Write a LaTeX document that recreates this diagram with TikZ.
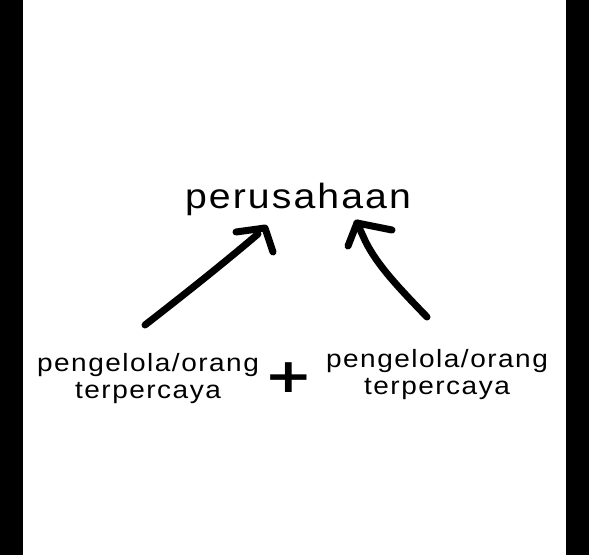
\documentclass[tikz,border=0pt]{standalone}
\usepackage{fontspec}
\setmainfont{Liberation Sans}
\newfontfamily\titlefont[LetterSpace=6,FakeStretch=1.12]{Liberation Sans}
\newfontfamily\labelfont[LetterSpace=6,FakeStretch=1.12]{Liberation Sans}
\newfontfamily\plusfont{DejaVu Sans}[BoldFont={DejaVu Sans Bold}]
\begin{document}
\begin{tikzpicture}[x=1pt,y=-1pt,
  lbl/.style={inner sep=0pt,align=center,font=\labelfont\fontsize{25}{26.5}\selectfont,text=black},
  ttl/.style={inner sep=0pt,font=\titlefont\fontsize{35}{40}\selectfont,text=black},
  pen/.style={draw=black,line width=7pt,line cap=round,line join=round}]
\useasboundingbox (0,0) rectangle (589,555);
\fill[white] (0,0) rectangle (589,555);
\fill[black] (0,0) rectangle (23,555);
\fill[black] (566,0) rectangle (589,555);
% texts
\node[ttl,anchor=base] (title) at (298,208) {perusahaan};
\node[lbl,anchor=base] (left) at (148,398) {pengelola/orang\\terpercaya};
\node[lbl,anchor=base] (right) at (437,394) {pengelola/orang\\terpercaya};
\node[inner sep=0pt,font=\plusfont\bfseries\fontsize{58}{60}\selectfont] (plus) at (288.5,378) {\scalebox{1}[0.82]{+}};
% arrow end points
\coordinate (ls) at (145,325);
\coordinate (lt) at (265,228);
\coordinate (rs) at (427,317);
\coordinate (rt) at (357,223);
% left arrow
\draw[pen] (ls) .. controls (190,290) and (225,262) .. (258,234);
\draw[pen] (236,232) -- (lt) -- (273,252);
% right arrow
\draw[pen] (rs) .. controls (398,287) and (374,262) .. (363,236) -- (rt);
\draw[pen] (392,230) -- (rt) -- (348,246);
\end{tikzpicture}
\end{document}
